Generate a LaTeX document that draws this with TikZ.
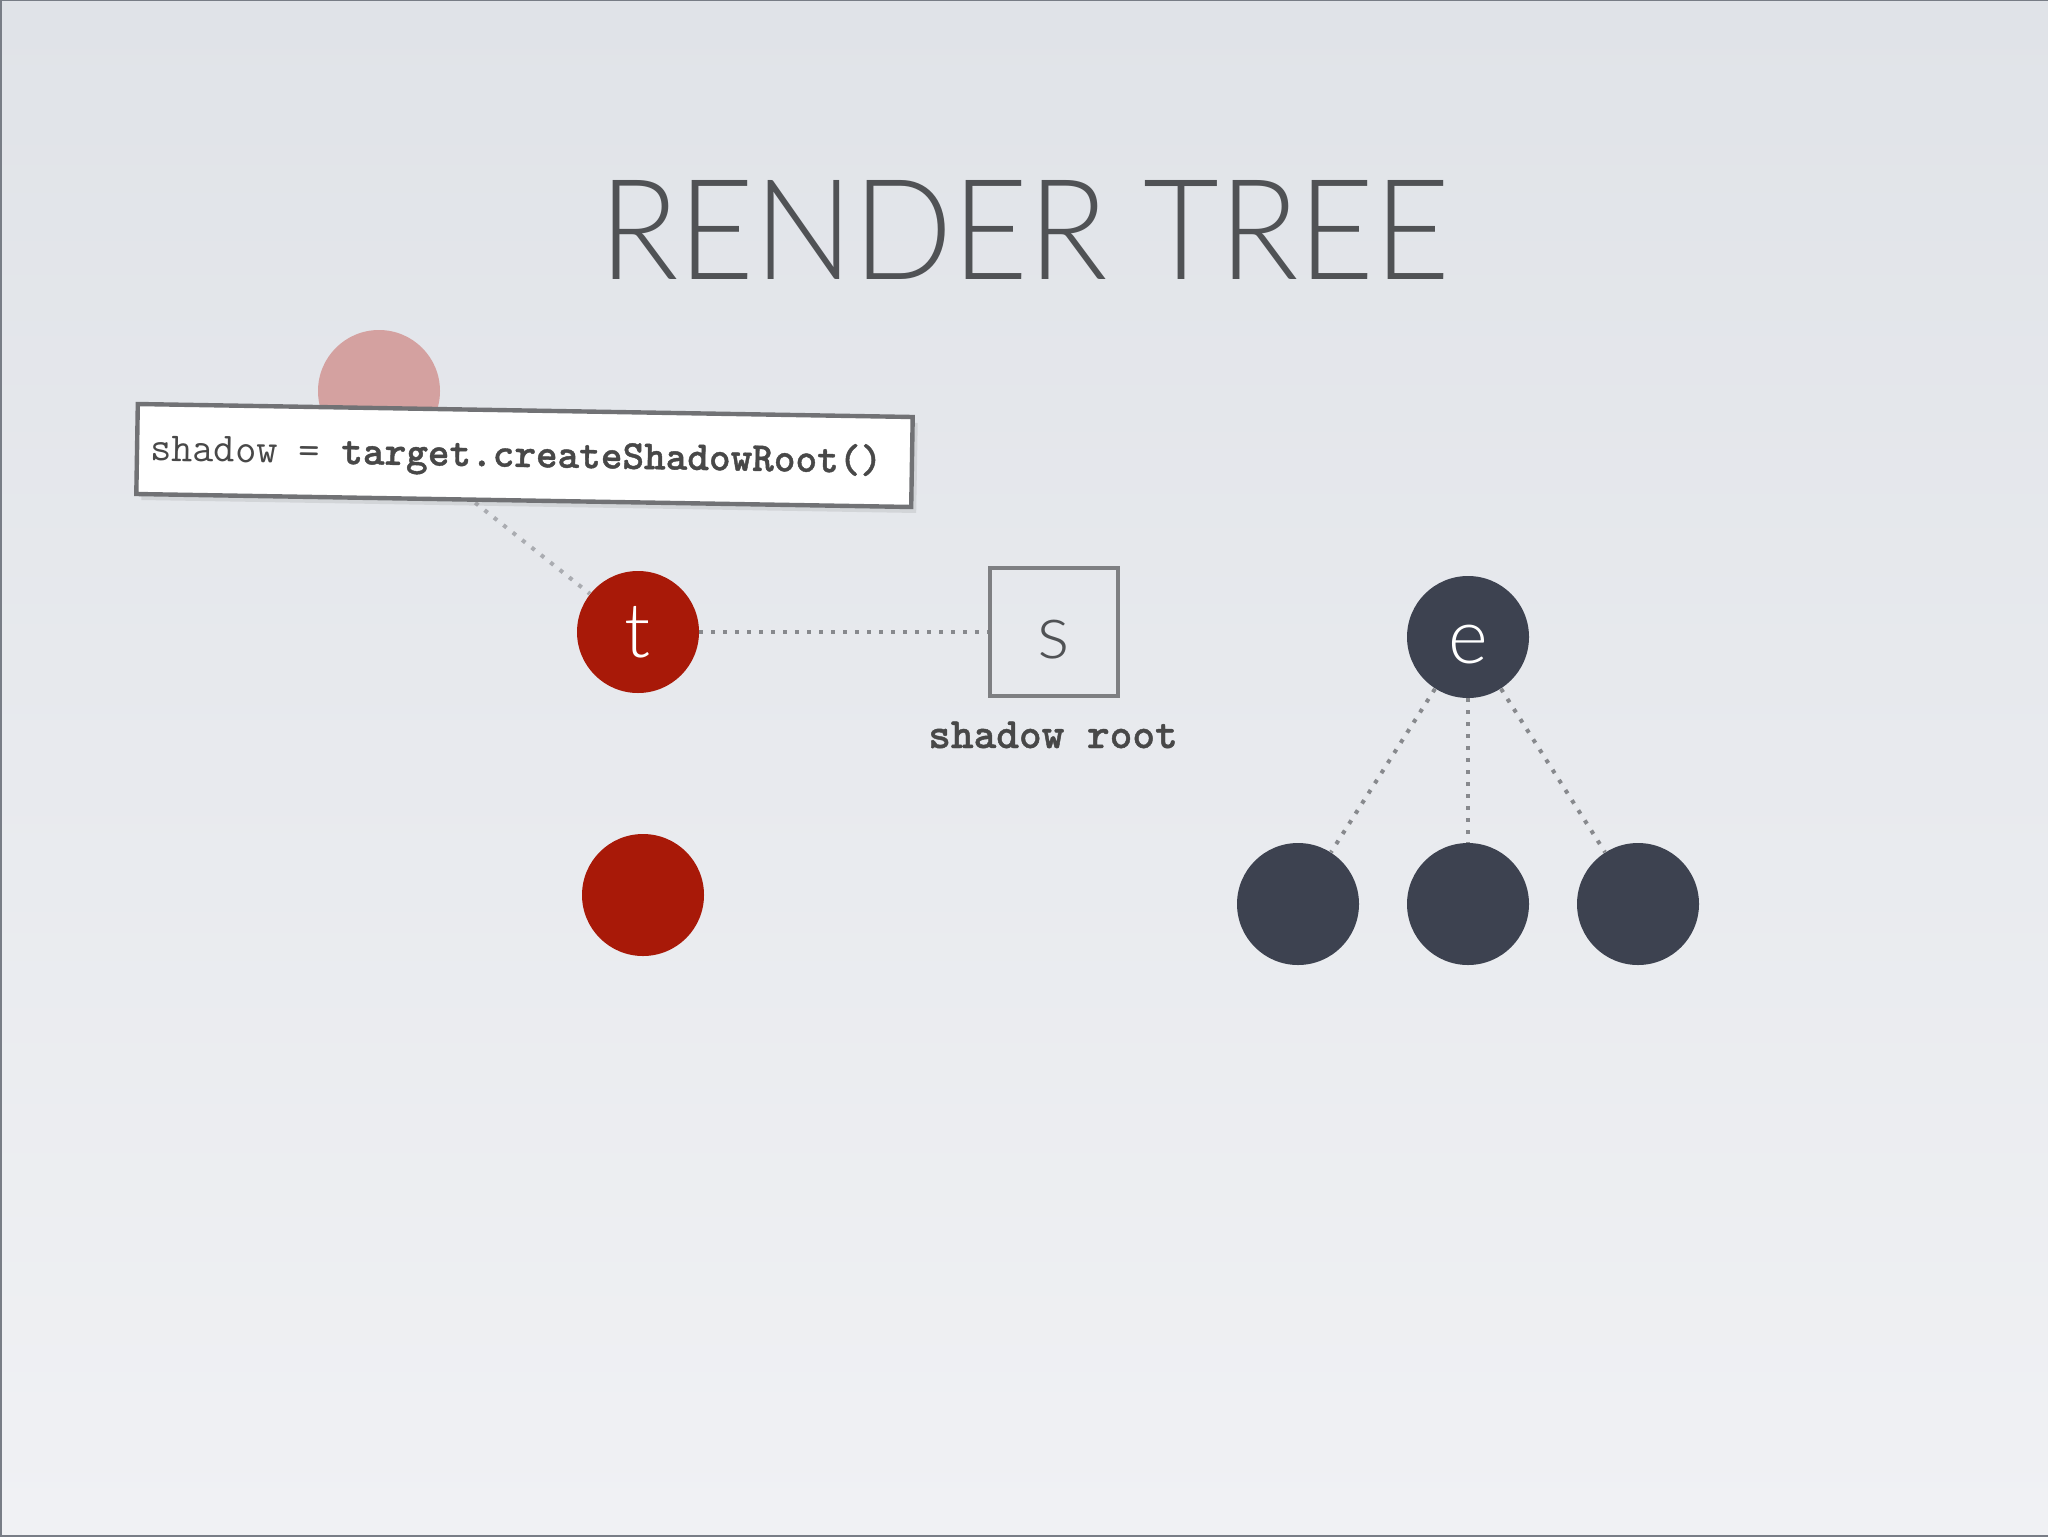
\documentclass[tikz,border=0pt]{standalone}
\usepackage{fontspec}
\setmainfont{Lato}
\newfontfamily\titlefont{Lato Light}
\newfontfamily\codebold{lmmonolt10-bold.otf}[FakeBold=1]
\usetikzlibrary{shadows}
\definecolor{bgtop}{RGB}{224,227,232}
\definecolor{bgbot}{RGB}{240,241,244}
\definecolor{titlegray}{RGB}{80,82,85}
\definecolor{redball}{RGB}{168,25,8}
\definecolor{pinkball}{RGB}{212,161,160}
\definecolor{slateball}{RGB}{61,66,80}
\definecolor{dotgray}{RGB}{135,137,141}
\definecolor{fadegray}{RGB}{170,172,177}
\definecolor{boxgray}{RGB}{126,127,130}
\definecolor{codegray}{RGB}{72,72,72}
\definecolor{framegray}{RGB}{120,125,134}
\tikzset{
  ball/.style={circle, minimum size=61pt, inner sep=0pt, text=white,
    font=\titlefont\fontsize{38}{38}\selectfont},
  lowtext/.style={text height=26.5pt, text depth=0pt},
  dotline/.style={draw=dotgray, line width=2pt, dash pattern=on 2pt off 4pt},
  fadeline/.style={draw=fadegray, line width=2pt, dash pattern=on 2pt off 4pt},
}
\begin{document}
\begin{tikzpicture}[x=0.5pt,y=-0.5pt]
\useasboundingbox (0,0) rectangle (2048,1536);
\shade[top color=bgtop,bottom color=bgbot] (0,0) rectangle (2048,1536);
\draw[framegray, line width=1pt] (0.5,1536) -- (0.5,0.5) -- (2048,0.5);
\draw[framegray, line width=1pt] (0,1535.5) -- (2048,1535.5);

% title
\node[anchor=base, font=\titlefont\fontsize{70}{70}\selectfont, text=titlegray, inner sep=0pt] (title) at (1025,279) {\scalebox{0.935}[1]{RENDER TREE}};

% faded parent and its link
\node[ball, fill=pinkball] (pink) at (379,391) {};
\coordinate (hidden) at (400,443);

% nodes
\node[ball, fill=redball] (t) at (638,632) {t};
\node[ball, fill=redball] (r2) at (643,895) {};
\node[draw=boxgray, line width=2pt, minimum size=64pt, inner sep=0pt, lowtext,
  text=titlegray, font=\titlefont\fontsize{38}{38}\selectfont] (s) at (1054,632) {s};
\node[anchor=base, font=\codebold\fontsize{21.6}{21.6}\selectfont, text=codegray, inner sep=0pt] (slabel) at (1053,748) {shadow root};

\node[ball, fill=slateball, lowtext] (e) at (1468,637) {e};
\node[ball, fill=slateball] (c1) at (1298,904) {};
\node[ball, fill=slateball] (c2) at (1468,904) {};
\node[ball, fill=slateball] (c3) at (1638,904) {};

% connectors
\draw[fadeline] (hidden) -- (t);
\draw[dotline] (t) -- (s);
\draw[dotline] (e) -- (c1);
\draw[dotline] (e) -- (c2);
\draw[dotline] (e) -- (c3);

% code box
\begin{scope}[rotate around={-0.96:(524.5,455.5)}]
  \node[fill=white, draw=boxgray!90!black, line width=2.2pt, minimum width=387.5pt, minimum height=45pt,
    inner sep=0pt, transform shape,
    drop shadow={opacity=0.18, shadow xshift=2.5pt, shadow yshift=-3pt}] (code) at (524.5,455.5) {};
  \node[anchor=base west, inner sep=0pt, transform shape, text=codegray,
    font=\ttfamily\fontsize{20.6}{20.6}\selectfont] (codetext) at (150,467)
    {shadow = {\codebold target.createShadowRoot()}};
\end{scope}
\end{tikzpicture}
\end{document}
